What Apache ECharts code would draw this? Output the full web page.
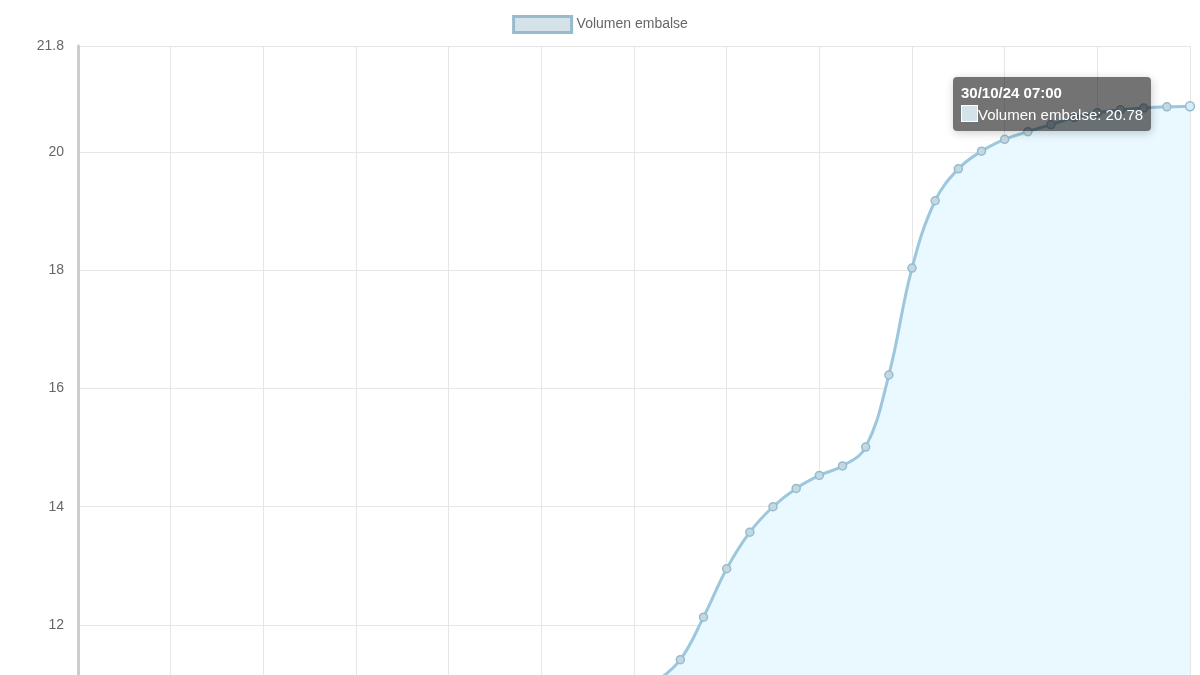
<!DOCTYPE html>
<html>
<head>
<meta charset="utf-8">
<script src="https://cdn.jsdelivr.net/npm/echarts@6/dist/echarts.min.js"></script>
<style>html,body{margin:0;padding:0;background:#fff;overflow:hidden}#chart{width:1200px;height:750px}</style>
</head>
<body>
<div id="chart"></div>
<script>
// Etiquetas horarias (28/10/24 07:00 -> 30/10/24 07:00)
const categories = [];
for (let d = 28; d <= 30; d++) {
  for (let h = 0; h < 24; h++) {
    const hh = (h + 7) % 24;
    const day = h + 7 >= 24 ? d + 1 : d;
    if (day === 30 && hh > 7) continue;
    if (day > 30) continue;
    categories.push(day + "/10/24 " + String(hh).padStart(2, "0") + ":00");
  }
}

// Volumen embalse (hm³)
const volumen = [
  10.05, 10.05, 10.06, 10.06, 10.06, 10.07, 10.07, 10.07, 10.08, 10.08,
  10.08, 10.09, 10.09, 10.10, 10.10, 10.11, 10.12, 10.13, 10.15, 10.18,
  10.22, 10.28, 10.38, 10.55, 10.80, 11.05, 11.41, 12.13, 12.95, 13.57,
  14.00, 14.31, 14.53, 14.69, 15.01, 16.23, 18.04, 19.18, 19.72, 20.02,
  20.22, 20.35, 20.47, 20.59, 20.67, 20.72, 20.75, 20.77, 20.78
];

const chart = echarts.init(document.getElementById("chart"));
chart.setOption({
  animation: false,
  legend: {
    top: 10,
    left: "center",
    itemWidth: 58,
    itemHeight: 16,
    textStyle: { color: "#666", fontSize: 14, fontFamily: "Arial" },
    data: [{ name: "Volumen embalse", icon: "rect",
      itemStyle: { color: "#d4e3ea", borderColor: "rgba(151,187,205,1)", borderWidth: 3 } }]
  },
  tooltip: {
    trigger: "axis",
    alwaysShowContent: true,
    position: [953, 77],
    backgroundColor: "rgba(0,0,0,0.55)",
    borderWidth: 0,
    padding: [5, 8],
    axisPointer: { type: "none" },
    textStyle: { color: "#fff", fontSize: 15, fontFamily: "Arial", lineHeight: 22 },
    formatter: (p) => "<b>" + p[0].name + "</b><br/>" +
      '<span style="display:inline-block;width:15px;height:15px;background:#d4e3ea;border:1px solid #fff;vertical-align:-2px"></span>' +
      "Volumen embalse: " + p[0].value
  },
  grid: { left: 78, right: 10, top: 46, bottom: 0 },
  xAxis: {
    type: "category",
    boundaryGap: false,
    data: categories,
    axisLabel: { show: false },
    axisTick: { show: false },
    axisLine: { lineStyle: { color: "#ccc" } },
    splitLine: { show: true, interval: 3, lineStyle: { color: "#e6e6e6" } }
  },
  yAxis: {
    type: "value",
    min: 10,
    max: 21.8,
    interval: 2,
    axisLine: { show: true, lineStyle: { color: "#ccc", width: 3 } },
    axisTick: { show: false },
    axisLabel: { color: "#666", fontSize: 14, fontFamily: "Arial", margin: 14 },
    splitLine: { lineStyle: { color: "#e6e6e6" } }
  },
  series: [{
    name: "Volumen embalse",
    type: "line",
    smooth: 0.4,
    clip: true,
    data: volumen,
    symbol: "circle",
    symbolSize: 8,
    lineStyle: { color: "#8fb5c9", width: 3 },
    itemStyle: { color: "#c4d8e2", borderColor: "#97bbcd", borderWidth: 1.5 },
    areaStyle: { color: "#d4e3ea", opacity: 1 }
  }]
});
chart.dispatchAction({ type: "showTip", seriesIndex: 0, dataIndex: volumen.length - 1 });
</script>
</body>
</html>
